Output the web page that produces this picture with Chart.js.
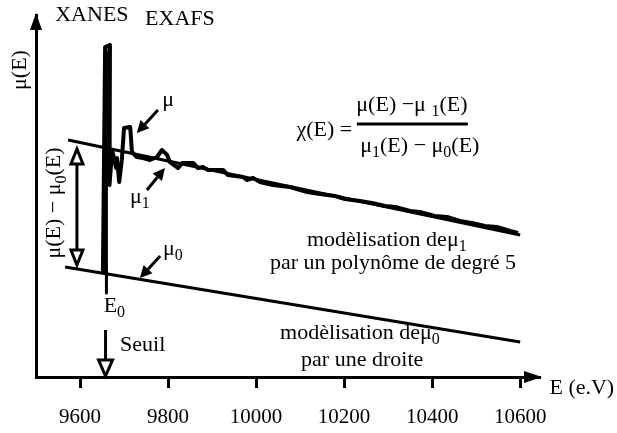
<!DOCTYPE html>
<html>
<head>
<meta charset="utf-8">
<script src="https://cdn.jsdelivr.net/npm/chart.js@4/dist/chart.umd.min.js"></script>
<style>
  html, body { margin: 0; padding: 0; background: #fff; }
</style>
</head>
<body>
<canvas id="xafs" width="617" height="433"></canvas>
<script>
// Spectre d'absorption X (seuil K du zinc) - énergie en eV, absorption en unités arbitraires
const muEnergy = [9652, 9657, 9668, 9667, 9673, 9682, 9684, 9689, 9695, 9700, 9714, 9718, 9729, 9743,
  9759, 9775, 9786, 9798, 9804, 9823, 9832, 9857, 9868, 9879, 9891, 9925, 9936, 9970, 9979, 9993,
  10009, 10038, 10077, 10116, 10145, 10179, 10202, 10236, 10263, 10293, 10316, 10350, 10372, 10406,
  10434, 10463, 10490, 10520, 10547, 10577, 10595];
const muValue = [1.04, 3.30, 3.32, 1.92, 2.27, 2.09, 2.19, 1.95, 2.17, 2.49, 2.50, 2.25, 2.20, 2.19,
  2.17, 2.20, 2.27, 2.22, 2.15, 2.09, 2.14, 2.14, 2.09, 2.10, 2.07, 2.07, 2.02, 2.00, 1.97, 1.99,
  1.95, 1.92, 1.90, 1.85, 1.83, 1.81, 1.78, 1.76, 1.74, 1.71, 1.70, 1.66, 1.65, 1.61,
  1.60, 1.56, 1.54, 1.51, 1.50, 1.46, 1.44];

// mu1 : polynôme, mu0 : droite
const mu1Energy = [9573, 10600];
const mu1Value = [2.37, 1.42];
const mu0Energy = [9566, 10600];
const mu0Value = [1.10, 0.35];

// seuil E0
const edgeEnergy = 9660;
const edgeMarker = [3.25, 0.84];

const tickValues = [9600, 9800, 10000, 10200, 10400, 10600];

const FONT = '"Liberation Serif", "Times New Roman", serif';

const pts = (xs, ys) => xs.map((e, i) => ({ x: e, y: ys[i] }));

function lineSet(data, width) {
  return {
    data: data,
    showLine: true,
    borderColor: '#000',
    borderWidth: width,
    pointRadius: 0,
    borderJoinStyle: 'round',
    borderCapStyle: 'butt',
    tension: 0
  };
}

// texte avec indices : chaînes normales, tableaux = indice
function richText(ctx, parts, x, y, size, align) {
  const subSize = Math.round(size * 0.72);
  let total = 0;
  const runs = parts.map(p => {
    const sub = Array.isArray(p);
    const txt = sub ? p[0] : p;
    ctx.font = (sub ? subSize : size) + 'px ' + FONT;
    const w = ctx.measureText(txt).width;
    total += w;
    return { txt, sub, w };
  });
  let cx = align === 'left' ? x : align === 'right' ? x - total : x - total / 2;
  ctx.textAlign = 'left';
  ctx.textBaseline = 'middle';
  runs.forEach(r => {
    ctx.font = (r.sub ? subSize : size) + 'px ' + FONT;
    ctx.fillText(r.txt, cx, r.sub ? y + size * 0.33 : y);
    cx += r.w;
  });
}

function filledArrow(ctx, x1, y1, x2, y2, len, half) {
  const a = Math.atan2(y2 - y1, x2 - x1);
  const bx = x2 - len * Math.cos(a), by = y2 - len * Math.sin(a);
  ctx.beginPath();
  ctx.moveTo(x1, y1);
  ctx.lineTo(bx, by);
  ctx.stroke();
  ctx.beginPath();
  ctx.moveTo(x2, y2);
  ctx.lineTo(bx + half * Math.sin(a), by - half * Math.cos(a));
  ctx.lineTo(bx - half * Math.sin(a), by + half * Math.cos(a));
  ctx.closePath();
  ctx.fill();
}

function openHead(ctx, x1, y1, x2, y2, len, half) {
  const a = Math.atan2(y2 - y1, x2 - x1);
  const bx = x2 - len * Math.cos(a), by = y2 - len * Math.sin(a);
  ctx.beginPath();
  ctx.moveTo(x2, y2);
  ctx.lineTo(bx + half * Math.sin(a), by - half * Math.cos(a));
  ctx.lineTo(bx - half * Math.sin(a), by + half * Math.cos(a));
  ctx.closePath();
  ctx.fillStyle = '#fff';
  ctx.fill();
  ctx.stroke();
  ctx.fillStyle = '#000';
}

const annotations = {
  id: 'annotations',
  afterDatasetsDraw(chart) {
    const { ctx, chartArea, scales: { x, y } } = chart;
    const px = e => x.getPixelForValue(e);
    const py = v => y.getPixelForValue(v);
    ctx.save();
    ctx.fillStyle = '#000';
    ctx.strokeStyle = '#000';
    ctx.lineCap = 'butt';
    ctx.lineJoin = 'miter';

    // flèches des axes
    ctx.beginPath();
    ctx.moveTo(chartArea.left, chartArea.top - 2);
    ctx.lineTo(chartArea.left - 6, chartArea.top + 15);
    ctx.lineTo(chartArea.left + 6, chartArea.top + 15);
    ctx.closePath();
    ctx.fill();
    ctx.beginPath();
    ctx.moveTo(chartArea.right + 2, chartArea.bottom);
    ctx.lineTo(chartArea.right - 16, chartArea.bottom - 6);
    ctx.lineTo(chartArea.right - 16, chartArea.bottom + 6);
    ctx.closePath();
    ctx.fill();

    // double flèche mu(E) - mu0(E)
    ctx.lineWidth = 3;
    const ax = px(9593);
    const top = py(2.28), bot = py(1.12);
    ctx.beginPath();
    ctx.moveTo(ax, top + 14);
    ctx.lineTo(ax, bot - 14);
    ctx.stroke();
    openHead(ctx, ax, bot, ax, top, 15, 6);
    openHead(ctx, ax, top, ax, bot, 15, 6);

    // flèche du seuil
    const sx = px(edgeEnergy - 2);
    ctx.beginPath();
    ctx.moveTo(sx, py(0.47));
    ctx.lineTo(sx, py(0) - 15);
    ctx.stroke();
    openHead(ctx, sx, py(0.47), sx, py(0) - 1, 16, 7);

    // flèches des étiquettes
    filledArrow(ctx, px(9777), py(2.67), px(9729), py(2.44), 12, 6);
    filledArrow(ctx, px(9752), py(1.87), px(9793), py(2.09), 12, 6);
    filledArrow(ctx, px(9782), py(1.21), px(9736), py(0.99), 12, 6);

    // textes
    const S = 22;
    richText(ctx, ['XANES'], px(9627), py(3.62), S, 'center');
    richText(ctx, ['EXAFS'], px(9827), py(3.58), S, 'center');
    richText(ctx, ['μ'], px(9800), py(2.77), S, 'center');
    richText(ctx, ['μ', ['1']], px(9736), py(1.80), S, 'center');
    richText(ctx, ['μ', ['0']], px(9811), py(1.28), S, 'center');
    richText(ctx, ['E', ['0']], px(9678), py(0.71), S, 'center');
    richText(ctx, ['Seuil'], px(9691), py(0.32), S, 'left');

    // formule de chi(E)
    richText(ctx, ['χ(E) ='], px(10155), py(2.47), S, 'center');
    richText(ctx, ['μ(E) −μ ', ['1'], '(E)'], px(10354), py(2.72), S, 'center');
    richText(ctx, ['μ', ['1'], '(E) − μ', ['0'], '(E)'], px(10372), py(2.31), S, 'center');
    ctx.lineWidth = 3;
    ctx.beginPath();
    ctx.moveTo(px(10229), py(2.53));
    ctx.lineTo(px(10481), py(2.53));
    ctx.stroke();

    richText(ctx, ['modèlisation deμ', ['1']], px(10297), py(1.37), S, 'center');
    richText(ctx, ['par un polynôme de degré 5'], px(10311), py(1.14), S, 'center');
    richText(ctx, ['modèlisation deμ', ['0']], px(10236), py(0.44), S, 'center');
    richText(ctx, ['par une droite'], px(10241), py(0.17), S, 'center');
    richText(ctx, ['E (e.V)'], px(10740), py(-0.11), S, 'center');

    // titres verticaux
    ctx.save();
    ctx.translate(px(9464), py(3.07));
    ctx.rotate(-Math.PI / 2);
    richText(ctx, ['μ(E)'], 0, 0, S, 'center');
    ctx.restore();
    ctx.save();
    ctx.translate(px(9541), py(1.74));
    ctx.rotate(-Math.PI / 2);
    richText(ctx, ['μ(E) − μ', ['0'], '(E)'], 0, 0, S, 'center');
    ctx.restore();

    ctx.restore();
  }
};

new Chart(document.getElementById('xafs'), {
  type: 'scatter',
  data: {
    datasets: [
      lineSet(pts(mu0Energy, mu0Value), 3),
      lineSet(pts(mu1Energy, mu1Value), 3),
      lineSet(edgeMarker.map(v => ({ x: edgeEnergy, y: v })), 3),
      lineSet(pts(muEnergy, muValue), 4)
    ]
  },
  options: {
    responsive: false,
    animation: false,
    events: [],
    layout: { padding: { left: 0, right: 77, top: 15, bottom: 0 } },
    plugins: { legend: { display: false }, tooltip: { enabled: false } },
    scales: {
      x: {
        type: 'linear',
        min: 9500,
        max: 10645,
        afterFit: s => { s.height = 56; },
        afterBuildTicks: s => { s.ticks = tickValues.map(v => ({ value: v })); },
        grid: { drawOnChartArea: false, drawTicks: true, tickLength: 11, tickWidth: 3, tickColor: '#000' },
        border: { color: '#000', width: 3 },
        ticks: {
          color: '#000',
          font: { family: FONT, size: 21 },
          padding: 17,
          maxRotation: 0,
          autoSkip: false,
          callback: v => String(v)
        }
      },
      y: {
        min: 0,
        max: 3.62,
        afterFit: s => { s.width = 36; },
        grid: { drawOnChartArea: false, drawTicks: false },
        border: { color: '#000', width: 3 },
        ticks: { display: false }
      }
    }
  },
  plugins: [annotations]
});
</script>
</body>
</html>
